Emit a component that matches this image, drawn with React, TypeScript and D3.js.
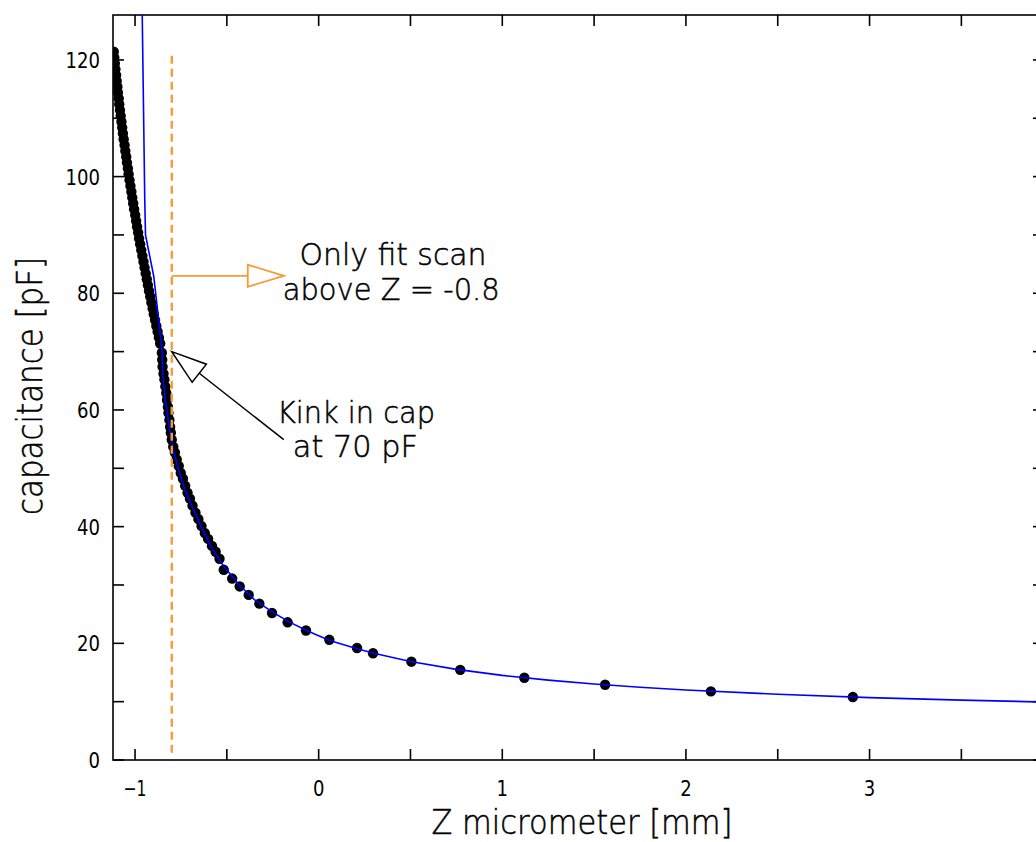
import React from "react";
import * as d3 from "d3";

const width = 1036;
const height = 842;
const margin = { top: 15, right: -8, bottom: 82, left: 113 };

const FONT = "'DejaVu Sans', sans-serif";

// measured scan, dense part above the kink (Z micrometer [mm], capacitance [pF])
const scanUpperZ = [
  -1.116, -1.113, -1.11, -1.107, -1.103, -1.1, -1.096, -1.093, -1.089, -1.086,
  -1.082, -1.078, -1.074, -1.07, -1.066, -1.062, -1.057, -1.053, -1.048, -1.044,
  -1.039, -1.035, -1.03, -1.025, -1.02, -1.015, -1.01, -1.005, -0.999, -0.994,
  -0.989, -0.983, -0.978, -0.972, -0.966, -0.96, -0.954, -0.948, -0.942, -0.936,
  -0.93, -0.924, -0.917, -0.911, -0.904, -0.898, -0.891, -0.884, -0.877, -0.87,
  -0.863,
];
const scanUpperC = [
  121.4, 120.4, 119.4, 118.4, 117.4, 116.4, 115.4, 114.4, 113.4, 112.4,
  111.4, 110.4, 109.4, 108.4, 107.4, 106.4, 105.4, 104.4, 103.4, 102.4,
  101.4, 100.4, 99.4, 98.4, 97.4, 96.4, 95.4, 94.4, 93.4, 92.4,
  91.4, 90.4, 89.4, 88.4, 87.4, 86.4, 85.4, 84.4, 83.4, 82.4,
  81.4, 80.4, 79.4, 78.4, 77.4, 76.4, 75.4, 74.4, 73.4, 72.4,
  71.4,
];

// dense part below the kink
const scanLowerZ = [
  -0.854, -0.852, -0.85, -0.845, -0.84, -0.835, -0.83, -0.826, -0.821, -0.818,
  -0.813, -0.809, -0.805, -0.8, -0.792, -0.783, -0.773, -0.762, -0.751, -0.739,
  -0.727, -0.714, -0.701, -0.687, -0.671, -0.655, -0.638, -0.62, -0.602, -0.581,
  -0.561, -0.54,
];
const scanLowerC = [
  69.8, 68.6, 67.4, 66.2, 65.2, 64.0, 62.9, 61.7, 60.5, 59.5,
  58.3, 57.1, 56.1, 54.9, 53.7, 52.7, 51.5, 50.4, 49.2, 48.2,
  47.0, 45.8, 44.8, 43.6, 42.4, 41.3, 40.1, 38.9, 37.9, 36.7,
  35.7, 34.5,
];

// sparse points further out
const scanSparseZ = [
  -0.517, -0.471, -0.43, -0.381, -0.323, -0.254, -0.169, -0.069, 0.058, 0.209,
  0.296, 0.505, 0.771, 1.12, 1.56, 2.136, 2.909,
];
const scanSparseC = [
  32.6, 31.1, 29.75, 28.3, 26.8, 25.2, 23.6, 22.2, 20.6, 19.2,
  18.3, 16.85, 15.45, 14.1, 12.9, 11.76, 10.8,
];

// fit curve (blue)
const fitZ = [
  -0.964, -0.947, -0.943, -0.898, -0.853, -0.85, -0.836, -0.818, -0.795, -0.765,
  -0.73, -0.69, -0.64, -0.59, -0.517, -0.43, -0.35, -0.25, -0.15, -0.06,
  0.06, 0.2, 0.3, 0.5, 0.75, 1.0, 1.25, 1.5, 1.75, 2.0,
  2.5, 3.0, 3.5, 3.95,
];
const fitC = [
  135, 96, 90, 82.9, 70.3, 66.5, 62, 58, 53.5, 50,
  46.5, 43.5, 40, 36.8, 33.2, 29.9, 27.5, 25.3, 23.5, 22.1,
  20.5, 19.15, 18.29, 16.88, 15.54, 14.5, 13.69, 13.02, 12.47, 12.0,
  11.27, 10.7, 10.26, 9.94,
];

const xTicks = [-1, -0.5, 0, 0.5, 1, 1.5, 2, 2.5, 3, 3.5];
const xLabels = [-1, 0, 1, 2, 3];
const yTicks = [0, 10, 20, 30, 40, 50, 60, 70, 80, 90, 100, 110, 120];
const yLabels = [0, 20, 40, 60, 80, 100, 120];

const cutZ = -0.8;
const cutTop = 120.7;
const cutBottom = 0.5;
const fitArrowC = 83;
const fitArrowTipZ = -0.19;
const kinkC = 70;
const kinkTailZ = -0.19;
const kinkTailC = 54.9;

const fitNote = ["Only fit scan", "above Z = -0.8"];
const kinkNote = ["Kink in cap", "at 70 pF"];

function head(tx: number, ty: number, fx: number, fy: number, len: number, hw: number) {
  const dx = tx - fx;
  const dy = ty - fy;
  const d = Math.hypot(dx, dy);
  const ux = dx / d;
  const uy = dy / d;
  const bx = tx - ux * len;
  const by = ty - uy * len;
  const pts = [
    [tx, ty],
    [bx - uy * hw, by + ux * hw],
    [bx + uy * hw, by - ux * hw],
  ];
  return { base: [bx, by], points: pts.map((p) => p.join(",")).join(" ") };
}

export default function App() {
  const x = d3.scaleLinear().domain([-1.12, 3.95]).range([margin.left, width - margin.right]);
  const y = d3.scaleLinear().domain([0, 127.7]).range([height - margin.bottom, margin.top]);
  const x0 = x.range()[0];
  const x1 = x.range()[1];
  const y0 = y.range()[0];
  const y1 = y.range()[1];

  const scan = [
    ...scanUpperZ.map((z, i) => [z, scanUpperC[i]]),
    ...scanLowerZ.map((z, i) => [z, scanLowerC[i]]),
    ...scanSparseZ.map((z, i) => [z, scanSparseC[i]]),
  ];
  const fitLine = d3
    .line<number>()
    .x((_, i) => x(fitZ[i]))
    .y((d) => y(d))(fitC);

  const orangeStart = [x(cutZ), y(fitArrowC)];
  const orangeHead = head(x(fitArrowTipZ), y(fitArrowC), orangeStart[0], orangeStart[1], 36, 11);
  const kinkTail = [x(kinkTailZ), y(kinkTailC)];
  const kinkHead = head(x(cutZ), y(kinkC), kinkTail[0], kinkTail[1], 35, 11.5);

  const tick = 11;
  const noteSize = 30;

  return (
    <svg width={width} height={height} style={{ display: "block", position: "absolute", left: 0, top: 0 }}>
      <defs>
        <clipPath id="plot">
          <rect x={x0} y={y1} width={x1 - x0} height={y0 - y1} />
        </clipPath>
      </defs>
      <rect width={width} height={height} fill="#fff" />

      {/* frame */}
      <g stroke="#000" strokeWidth={1.6} fill="none">
        <rect x={x0} y={y1} width={x1 - x0} height={y0 - y1} />
        {xTicks.map((t) => (
          <g key={"xt" + t}>
            <line x1={x(t)} x2={x(t)} y1={y0} y2={y0 - tick} />
            <line x1={x(t)} x2={x(t)} y1={y1} y2={y1 + tick} />
          </g>
        ))}
        {yTicks.map((t) => (
          <g key={"yt" + t}>
            <line x1={x0} x2={x0 + tick} y1={y(t)} y2={y(t)} />
            <line x1={x1} x2={x1 - tick} y1={y(t)} y2={y(t)} />
          </g>
        ))}
      </g>

      <g fontFamily={FONT} fontSize={22} fill="#000">
        {xLabels.map((t) => (
          <text key={"xl" + t} x={x(t)} y={y0 + 36} textAnchor="middle" textLength={t < 0 ? 23 : 11.5} lengthAdjust="spacingAndGlyphs">
            {t < 0 ? "\u2212" + Math.abs(t) : t}
          </text>
        ))}
        {yLabels.map((t) => (
          <text
            key={"yl" + t}
            x={x0 - 13}
            y={y(t)}
            dy="0.36em"
            textAnchor="end"
            textLength={String(t).length * 11.5}
            lengthAdjust="spacingAndGlyphs"
          >
            {t}
          </text>
        ))}
      </g>

      {/* data */}
      <g clipPath="url(#plot)">
        {scan.map((d, i) => (
          <circle key={i} cx={x(d[0])} cy={y(d[1])} r={5.2} fill="#000" />
        ))}
        <path d={fitLine ?? ""} fill="none" stroke="#0000ff" strokeWidth={1.6} />
        <line
          x1={x(cutZ)}
          x2={x(cutZ)}
          y1={y(cutTop)}
          y2={y(cutBottom)}
          stroke="#f99b35"
          strokeWidth={2.4}
          strokeDasharray="8,5"
        />
      </g>

      {/* annotations */}
      <g stroke="#f99b35" strokeWidth={1.8}>
        <line x1={orangeStart[0]} y1={orangeStart[1]} x2={orangeHead.base[0]} y2={orangeHead.base[1]} />
        <polygon points={orangeHead.points} fill="#fff" />
      </g>
      <g stroke="#000" strokeWidth={1.5}>
        <line x1={kinkTail[0]} y1={kinkTail[1]} x2={kinkHead.base[0]} y2={kinkHead.base[1]} />
        <polygon points={kinkHead.points} fill="#fff" />
      </g>

      <g fontFamily={FONT} fontWeight={200} fontSize={noteSize} fill="#000" stroke="#000" strokeWidth={0.5} textAnchor="middle">
        <text x={x(0.405)} y={y(84.9)} textLength={187} lengthAdjust="spacingAndGlyphs">
          {fitNote[0]}
        </text>
        <text x={x(0.395)} y={y(78.9)} textLength={217} lengthAdjust="spacingAndGlyphs">
          {fitNote[1]}
        </text>
        <text x={x(0.203)} y={y(57.8)} textLength={158} lengthAdjust="spacingAndGlyphs">
          {kinkNote[0]}
        </text>
        <text x={x(0.2)} y={y(52.0)} textLength={125} lengthAdjust="spacingAndGlyphs">
          {kinkNote[1]}
        </text>
      </g>

      <g fontFamily={FONT} fontWeight={200} fill="#000" stroke="#000" strokeWidth={0.5} textAnchor="middle">
        <text x={582} y={834} fontSize={33} textLength={301} lengthAdjust="spacingAndGlyphs">
          Z micrometer [mm]
        </text>
        <text
          transform={`translate(42,386) rotate(-90)`}
          fontSize={35}
          textLength={258}
          lengthAdjust="spacingAndGlyphs"
        >
          capacitance [pF]
        </text>
      </g>
    </svg>
  );
}
